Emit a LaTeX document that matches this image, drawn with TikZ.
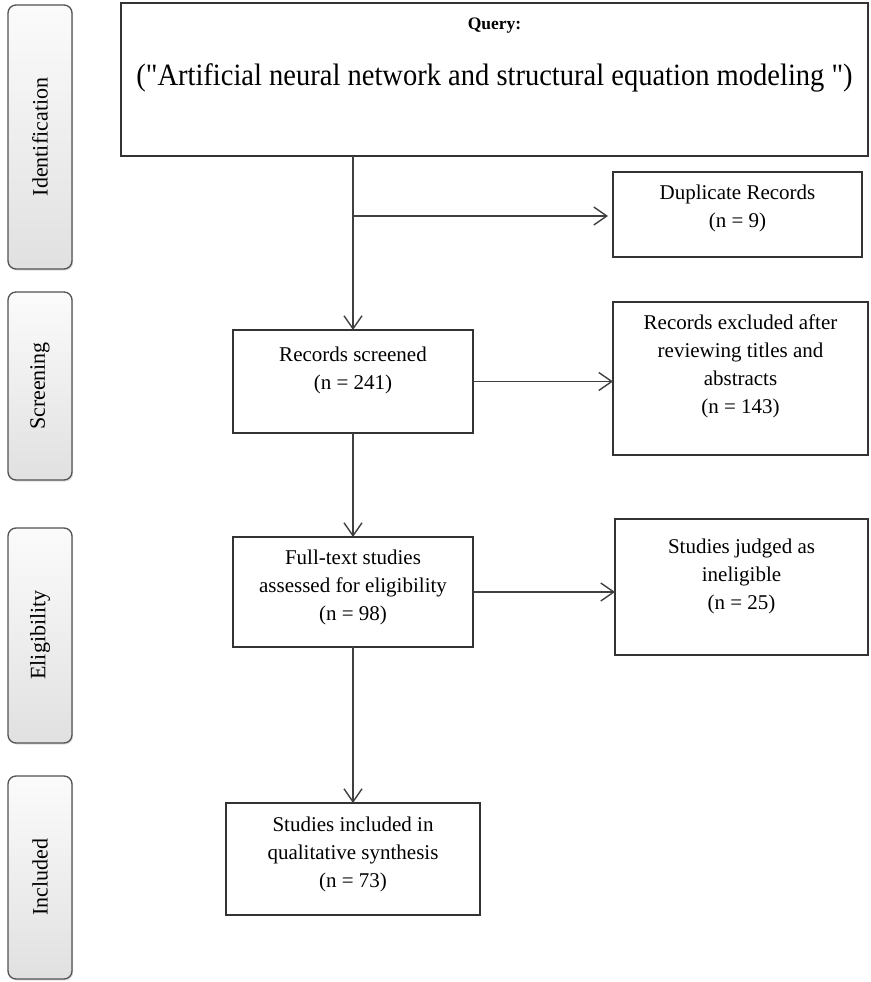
\documentclass[tikz,border=0pt]{standalone}
\usepackage{fontspec}
\setmainfont{Liberation Serif}
% straight double quotes for the search string
\newfontfamily\querytextfont{Liberation Serif}[Ligatures=TeXOff]
\usetikzlibrary{arrows.meta,shadows}
\begin{document}
\begin{tikzpicture}[x=1pt,y=-1pt,
  stagebox/.style={draw=black!68, line width=1.3pt, rounded corners=8pt,
    top color=gray!3, bottom color=gray!24,
    drop shadow={opacity=0.25, shadow xshift=1.2pt, shadow yshift=-1.5pt},
    inner sep=0pt, outer sep=0pt},
  stagetext/.style={rotate=90, font=\fontsize{22}{26}\selectfont},
  flowbox/.style={draw=black!80, line width=1.8pt, fill=white,
    inner sep=0pt, outer sep=0pt},
  flowtext/.style={anchor=north, inner sep=0pt, align=center,
    font=\fontsize{21}{28}\selectfont},
  flow/.style={draw=black!75, line width=1.4pt,
    -{Straight Barb[length=13pt,width=18pt,line width=1.4pt]}}
]
\useasboundingbox (0,0) rectangle (870,982);

% stage labels on the left
\path[stagebox] (8,5) rectangle (72,269);
\node[stagetext] (sIdent) at (40,137) {Identification};
\path[stagebox] (8,292) rectangle (72,480);
\node[stagetext] (sScreen) at (40,386) {Screening};
\path[stagebox] (8,528) rectangle (72,743);
\node[stagetext] (sElig) at (40,635) {Eligibility};
\path[stagebox] (8,776) rectangle (72,979);
\node[stagetext] (sIncl) at (40,877) {Included};

% search query
\node[flowbox, anchor=north west, minimum width=747pt, minimum height=153pt] (query) at (121,3) {};
\node[anchor=center, inner sep=0pt, font=\fontsize{17.5}{20}\selectfont\bfseries] (qlabel) at (494.5,26) {Query:};
\node[anchor=center, inner sep=0pt, font=\querytextfont\fontsize{31}{34}\selectfont] (qtext) at (494.5,78)
  {\scalebox{0.92}[1]{("Artificial neural network and structural equation modeling ")}};

% flow boxes, each with its text set from the top
\node[flowbox, anchor=north west, minimum width=249pt, minimum height=85pt] (dup) at (613,172) {};
\node[flowtext] (dupT) at (737.5,184.5) {Duplicate Records\\(n = 9)};

\node[flowbox, anchor=north west, minimum width=240pt, minimum height=103pt] (screen) at (233,330) {};
\node[flowtext] (screenT) at (353,346.5) {Records screened\\(n = 241)};

\node[flowbox, anchor=north west, minimum width=255pt, minimum height=153pt] (excl) at (613,302) {};
\node[flowtext] (exclT) at (740.5,314.5) {Records excluded after\\reviewing titles and\\abstracts\\(n = 143)};

\node[flowbox, anchor=north west, minimum width=240pt, minimum height=110pt] (full) at (233,537) {};
\node[flowtext] (fullT) at (353,549.5) {Full-text studies\\assessed for eligibility\\(n = 98)};

\node[flowbox, anchor=north west, minimum width=253pt, minimum height=136pt] (judged) at (615,519) {};
\node[flowtext] (judgedT) at (741.5,538.5) {Studies judged as\\ineligible\\(n = 25)};

\node[flowbox, anchor=north west, minimum width=254pt, minimum height=112pt] (incl) at (226,803) {};
\node[flowtext] (inclT) at (353,816.5) {Studies included in\\qualitative synthesis\\(n = 73)};

% connectors
\coordinate (qout) at (353,156);
\coordinate (branch) at (353,216);
\draw[flow] (qout) -- (screen.north);
\draw[flow, shorten >=5pt] (branch) -- (branch -| dup.west);
\draw[flow] (screen.east) -- (screen.east -| excl.west);
\draw[flow] (screen.south) -- (full.north);
\draw[flow] (full.east) -- (full.east -| judged.west);
\draw[flow] (full.south) -- (full.south |- incl.north);
\end{tikzpicture}
\end{document}
